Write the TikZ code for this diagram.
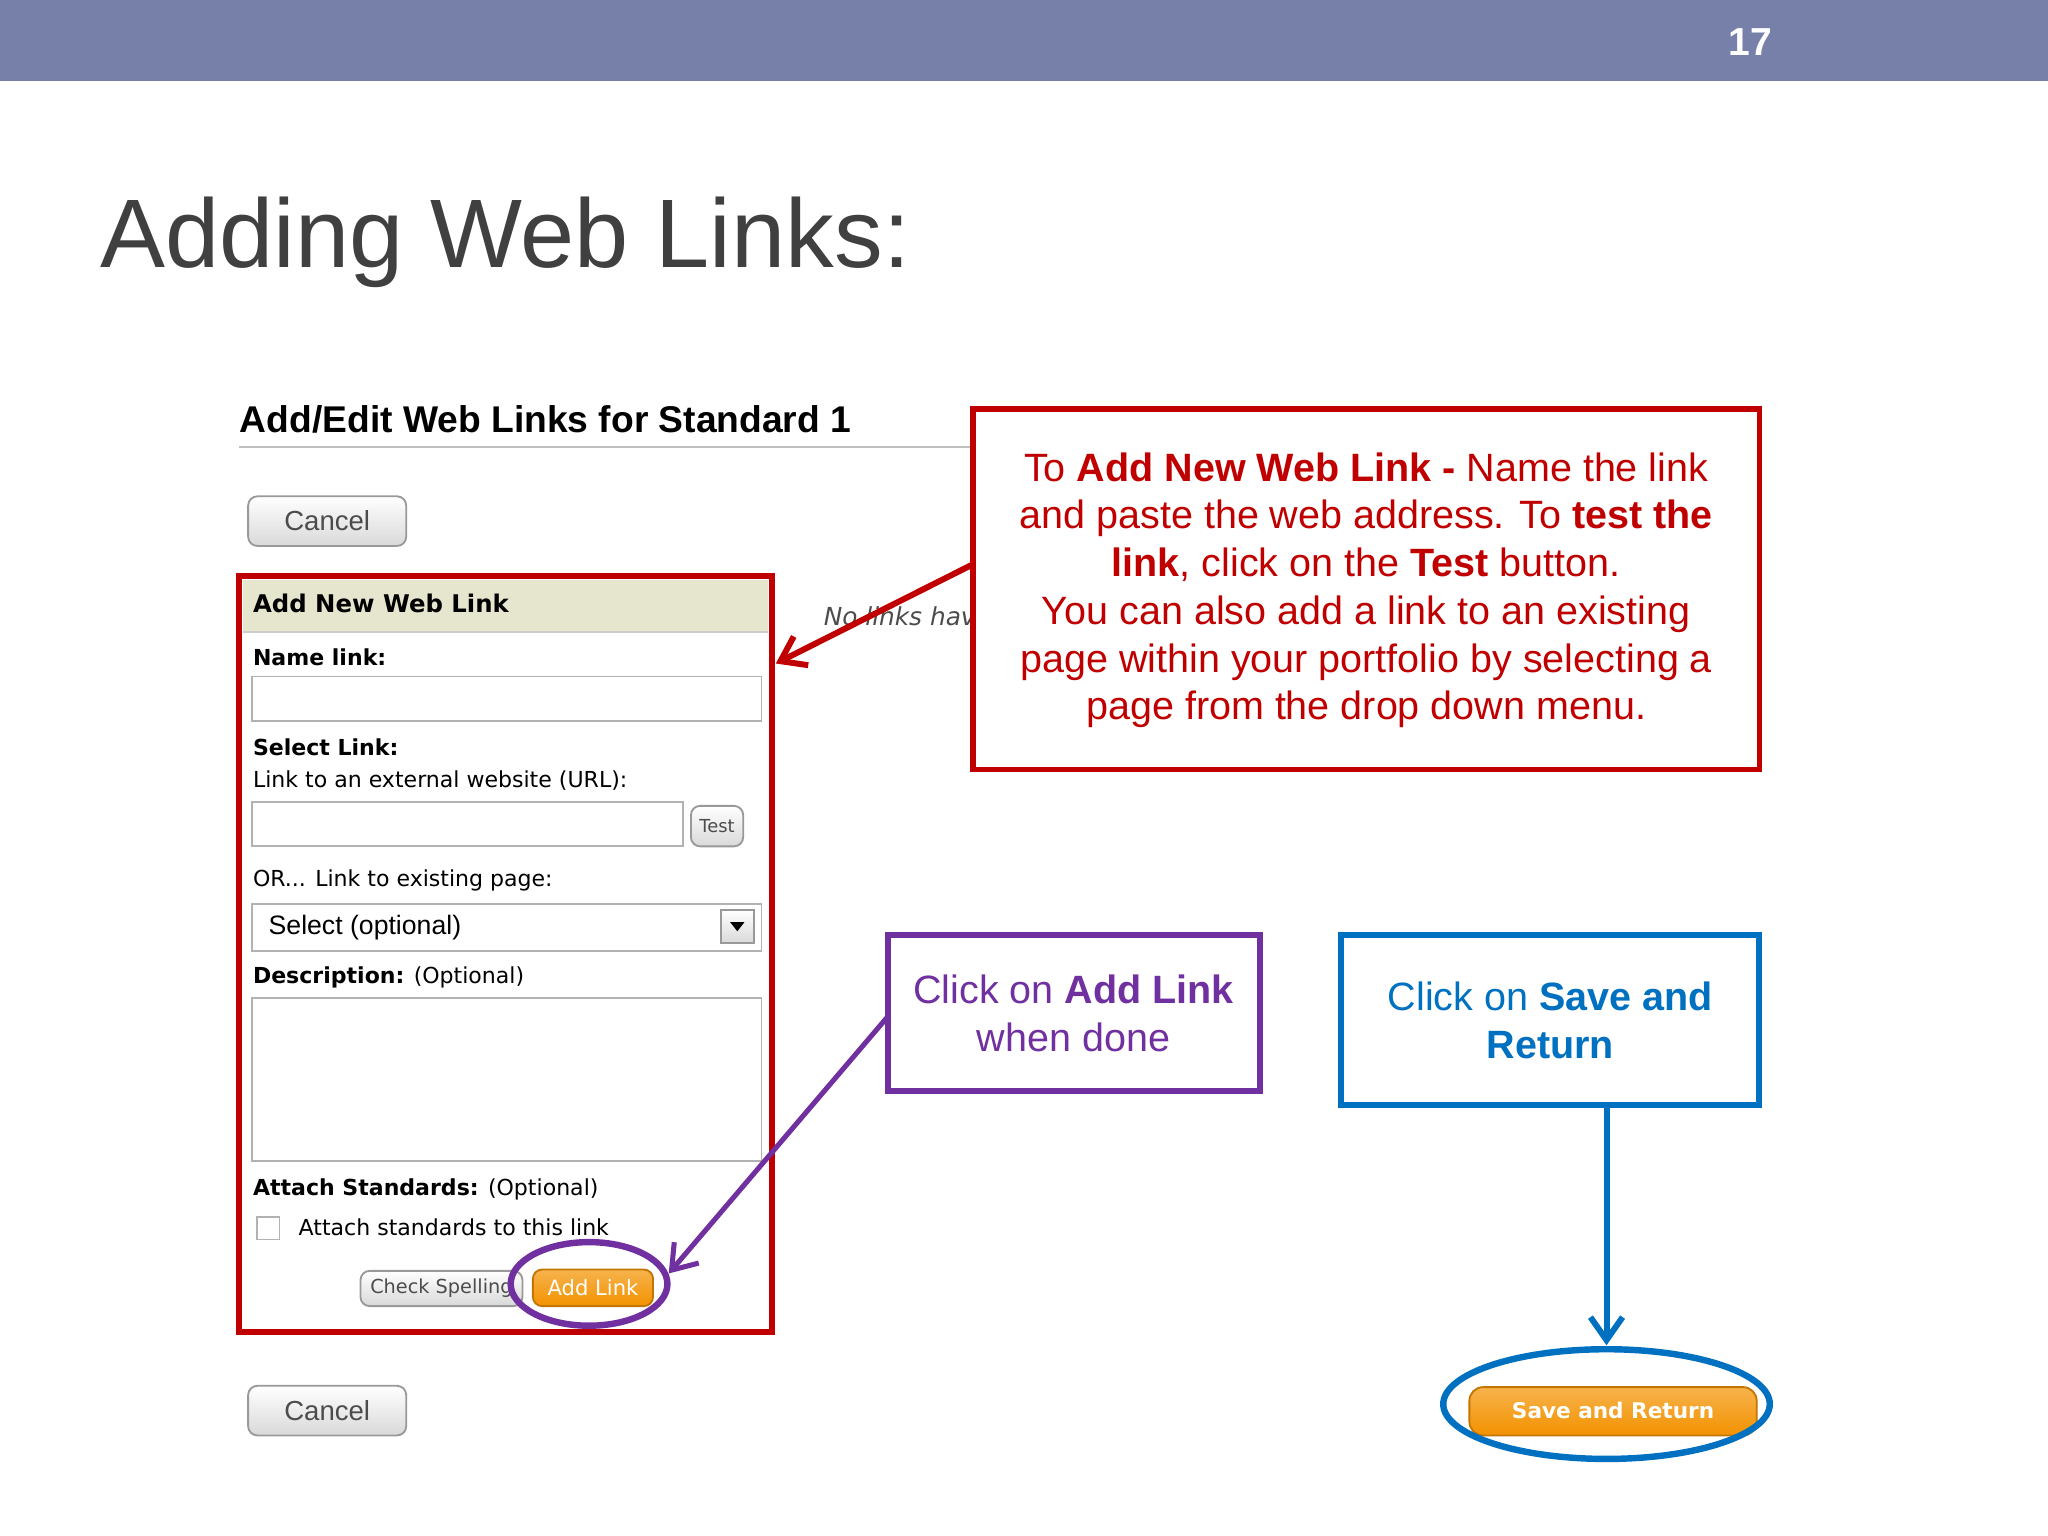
\documentclass[tikz,border=0pt]{standalone}
\usepackage{fontspec}
\setmainfont{Liberation Sans}
\newfontfamily\ui{DejaVu Sans}
\usetikzlibrary{arrows.meta,fit}
\definecolor{barc}{HTML}{7780A8}
\definecolor{redc}{HTML}{C00000}
\definecolor{purc}{HTML}{7030A0}
\definecolor{bluc}{HTML}{0070C0}
\definecolor{orc}{HTML}{F39200}
\definecolor{hdr}{HTML}{E6E6CF}
\tikzset{
 lbl/.style={anchor=west,inner sep=0,font=\ui\fontsize{4.8}{6}\selectfont},
 inbox/.style={draw=black!30,fill=white},
 btn/.style={draw=black!40,rounded corners=2pt,top color=white,bottom color=black!15,inner sep=0},
 obtn/.style={draw=orc!80!black,rounded corners=2pt,top color=orc!70,bottom color=orc,inner sep=0},
 call/.style={align=center,inner sep=0,font=\fontsize{8.6}{10.4}\selectfont},
 tip/.style={-{Straight Barb[length=5pt,width=7pt]}},
}
\begin{document}
\begin{tikzpicture}[x=0.01cm,y=-0.01cm]
\useasboundingbox (0,0) rectangle (1568,1176);
\fill[barc] (0,0) rectangle (1568,62);
\node[text=white,font=\bfseries\fontsize{8.5}{10}\selectfont] (num) at (1340,32) {17};
\node[anchor=base west,inner sep=0,text=black!75,font=\fontsize{21.2}{25}\selectfont] (title) at (76,205) {Adding Web Links:};
\node[anchor=base west,inner sep=0,font=\bfseries\fontsize{8.1}{10}\selectfont] (head) at (183,331) {Add/Edit Web Links for Standard 1};
\draw[black!25] (183,342) -- (745,342);
\node[btn,fit={(190,380) (311,418)}] (c1) {};
\node[font=\fontsize{6}{7}\selectfont,text=black!70] at (c1) {Cancel};
\node[btn,fit={(190,1061) (311,1099)}] (c2) {};
\node[font=\fontsize{6}{7}\selectfont,text=black!70] at (c2) {Cancel};
\node[lbl,font=\ui\itshape\fontsize{5.4}{7}\selectfont,text=black!70] (nol) at (630,472) {No links hav};
% panel
\fill[white] (183,441) rectangle (591,1020);
\fill[hdr] (186,444) rectangle (588,484);
\draw[black!20] (186,484) -- (588,484);
\node[lbl,font=\ui\bfseries\fontsize{5.3}{7}\selectfont] (p1) at (193,462) {Add New Web Link};
\node[lbl,font=\ui\bfseries\fontsize{4.8}{6}\selectfont] (p2) at (193,503) {Name link:};
\draw[inbox] (193,518) rectangle (583,552);
\node[lbl,font=\ui\bfseries\fontsize{4.8}{6}\selectfont] (p3) at (193,572) {Select Link:};
\node[lbl] (p4) at (193,598) {Link to an external website (URL):};
\draw[inbox] (193,614) rectangle (523,648);
\node[btn,fit={(529,617) (569,648)}] (test) {};
\node[font=\ui\fontsize{3.9}{5}\selectfont,text=black!70] at (test) {Test};
\node[lbl] (p5) at (193,674) {OR... Link to existing page:};
\draw[inbox] (193,692) rectangle (583,728);
\node[lbl,font=\fontsize{5.8}{7}\selectfont] (p6) at (205,710) {Select (optional)};
\draw[btn,rounded corners=0] (552,697) rectangle (577,722);
\fill (559,706) -- (570,706) -- (564.5,713) -- cycle;
\node[lbl] (p7) at (193,748) {\textbf{Description:} (Optional)};
\draw[inbox] (193,764) rectangle (583,889);
\node[lbl] (p8) at (193,911) {\textbf{Attach Standards:} (Optional)};
\draw[inbox] (197,932) rectangle (214,949);
\node[lbl] (p9) at (228,940) {Attach standards to this link};
\node[btn,fit={(276,973) (400,1000)}] (chk) {};
\node[font=\ui\fontsize{4.2}{6}\selectfont,text=black!70] at (chk) {Check Spelling};
\node[obtn,fit={(408,972) (500,1000)}] (add) {};
\node[text=white,font=\ui\fontsize{4.6}{6}\selectfont] at (add) {Add Link};
\draw[redc,line width=1.4pt] (183,441) rectangle (591,1020);
\draw[purc,line width=1.4pt] (451,983) ellipse (60 and 32);
\coordinate (panelR) at (594,508);
% red callout
\node[draw=redc,line width=1.2pt,fill=white,inner sep=0,fit={(745,313) (1347,589)}] (rbox) {};
\node[call,text=redc] (rtxt) at (1046,452) {To \textbf{Add New Web Link -} Name the link\\and paste the web address. To \textbf{test the}\\\textbf{link}, click on the \textbf{Test} button.\\You can also add a link to an existing\\page within your portfolio by selecting a\\page from the drop down menu.};
\coordinate (ra) at (745,432);
\draw[redc,line width=1.3pt,tip] (ra) -- (panelR);
% purple callout
\node[draw=purc,line width=1.3pt,inner sep=0,fit={(680,716) (965,835)}] (pbox) {};
\node[call,text=purc] (ptxt) at (822,776) {Click on \textbf{Add Link}\\when done};
\coordinate (pa) at (680,778);
\coordinate (pb) at (512,975);
\draw[purc,line width=1.1pt,tip] (pa) -- (pb);
% blue callout
\node[draw=bluc,line width=1.3pt,inner sep=0,fit={(1027,716) (1347,846)}] (bbox) {};
\node[call,text=bluc] (btxt) at (1187,781) {Click on \textbf{Save and}\\\textbf{Return}};
\node[obtn,rounded corners=3pt,fit={(1125,1062) (1345,1099)}] (save) {};
\node[text=white,font=\ui\bfseries\fontsize{4.7}{6}\selectfont] at (1235,1080) {Save and Return};
\draw[bluc,line width=1.4pt] (1230,1075) ellipse (125 and 42);
\coordinate (ba) at (1230,846);
\coordinate (bb) at (1230,1030);
\draw[bluc,line width=1.3pt,tip] (ba) -- (bb);
\end{tikzpicture}
\end{document}
